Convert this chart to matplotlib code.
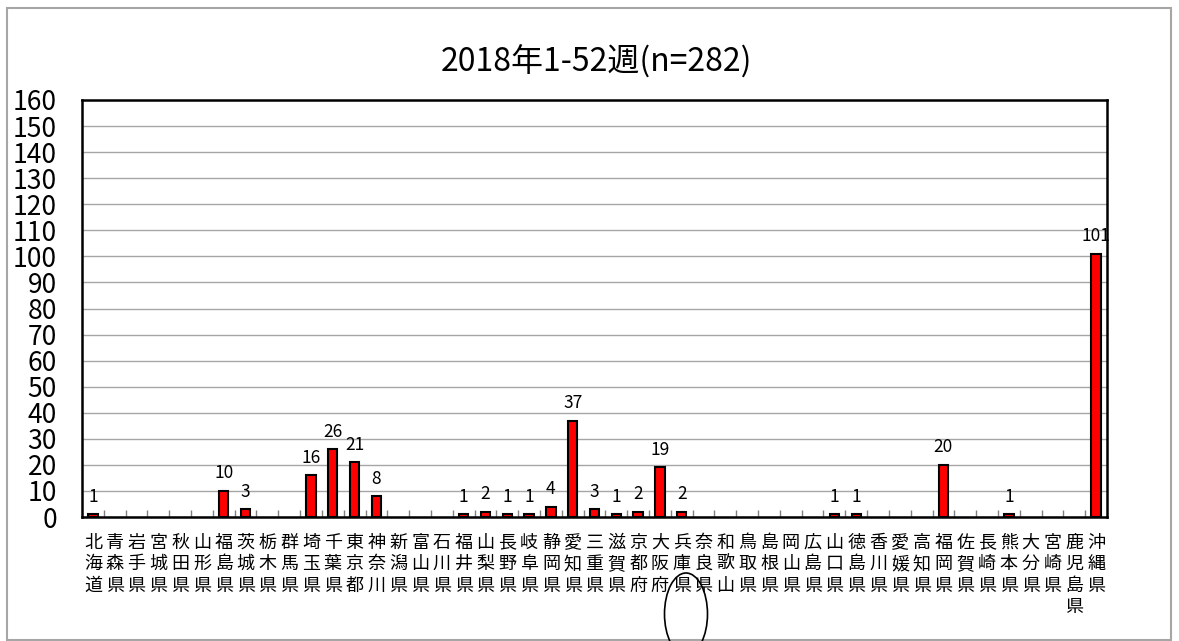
#!/usr/bin/env python3

import numpy as np
import matplotlib
matplotlib.use("Agg")
import matplotlib.pyplot as plt
from matplotlib.patches import Ellipse, Rectangle

plt.rcParams["font.family"] = ["Noto Sans CJK JP", "DejaVu Sans"]

prefectures = [
    "北海道", "青森県", "岩手県", "宮城県", "秋田県", "山形県", "福島県",
    "茨城県", "栃木県", "群馬県", "埼玉県", "千葉県", "東京都", "神奈川",
    "新潟県", "富山県", "石川県", "福井県", "山梨県", "長野県", "岐阜県",
    "静岡県", "愛知県", "三重県", "滋賀県", "京都府", "大阪府", "兵庫県",
    "奈良県", "和歌山", "鳥取県", "島根県", "岡山県", "広島県", "山口県",
    "徳島県", "香川県", "愛媛県", "高知県", "福岡県", "佐賀県", "長崎県",
    "熊本県", "大分県", "宮崎県", "鹿児島県", "沖縄県",
]
counts = [
    1, 0, 0, 0, 0, 0, 10,
    3, 0, 0, 16, 26, 21, 8,
    0, 0, 0, 1, 2, 1, 1,
    4, 37, 3, 1, 2, 19, 2,
    0, 0, 0, 0, 0, 0, 1,
    1, 0, 0, 0, 20, 0, 0,
    1, 0, 0, 0, 101,
]
title = "2018年1-52週(n=282)"
yticks = np.arange(0, 161, 10)

W, H = 1179, 641


def _px_axes(fig, left, top, right, bottom):
    return fig.add_axes([left / W, 1 - bottom / H, (right - left) / W, (bottom - top) / H])


def _main():
    fig = plt.figure(figsize=(W / 100, H / 100), dpi=100)

    # overlay for the outer frame and the hand-drawn circle
    over = fig.add_axes([0, 0, 1, 1], zorder=5)
    over.set_xlim(0, W)
    over.set_ylim(H, 0)
    over.axis("off")
    over.patch.set_alpha(0)
    over.add_patch(Rectangle((6.5, 7.5), 1164, 632, fill=False,
                             edgecolor="#a6a6a6", linewidth=1.5))
    over.add_patch(Ellipse((686, 614), 43, 82, fill=False,
                           edgecolor="black", linewidth=1.2))

    ax = _px_axes(fig, 82, 100, 1107, 517)
    x = np.arange(len(counts))
    edges = ["black" if v > 0 else "none" for v in counts]
    ax.bar(x, counts, width=0.43, color="#ff0000", edgecolor=edges,
           linewidth=1.5, zorder=3)

    for xi, v in zip(x, counts):
        if v > 0:
            ax.annotate(str(v), (xi, v), xytext=(0, 9), textcoords="offset points",
                        ha="center", va="baseline", fontsize=12.5)

    ax.set_xlim(-0.5, len(counts) - 0.5)
    ax.set_ylim(0, 160)
    ax.set_yticks(yticks)
    ax.set_yticklabels([str(t) for t in yticks], fontsize=19)
    ax.tick_params(axis="y", length=0, pad=18)

    ax.set_xticks(x)
    ax.set_xticklabels(["\n".join(p) for p in prefectures], fontsize=13,
                       va="top", linespacing=1.25)
    ax.set_xticks(np.arange(0.5, len(counts) - 1, 1), minor=True)
    ax.tick_params(axis="x", which="major", length=0, pad=12)
    ax.tick_params(axis="x", which="minor", direction="in", length=5,
                   color="#808080", width=1)

    ax.grid(axis="y", color="#a6a6a6", linewidth=1, zorder=0)
    ax.set_axisbelow(True)
    for s in ax.spines.values():
        s.set_linewidth(1.8)
        s.set_color("black")

    fig.text(596 / W, 1 - 62 / H, title, ha="center", va="center", fontsize=23)

    fig.savefig("out.png", dpi=100)


if __name__ == "__main__":
    _main()
